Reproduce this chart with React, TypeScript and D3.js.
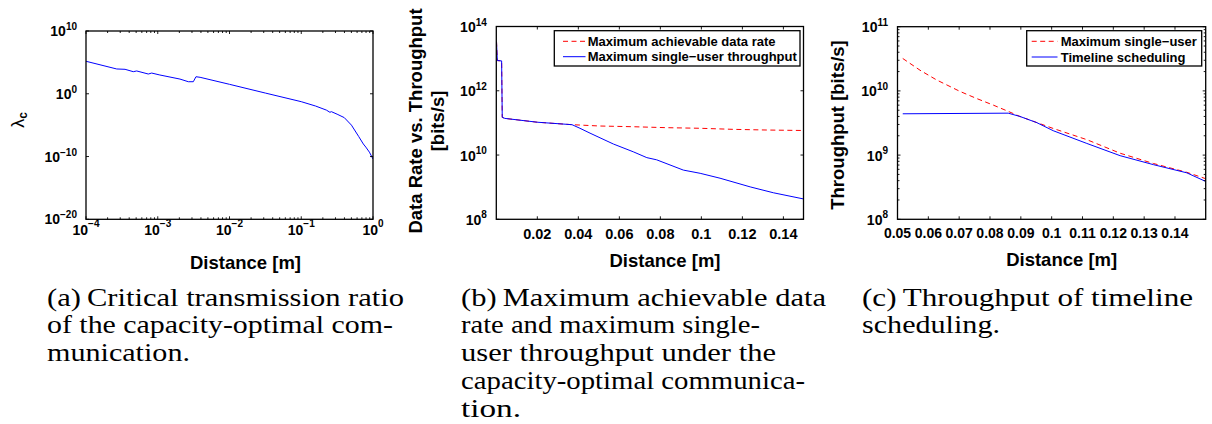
import React from 'react';
import * as d3 from 'd3';

// ---------------- Data ----------------
// (a) Critical transmission ratio
const aDistance = [1e-4, 2.68e-4, 3.5e-4, 4.56e-4, 5.09e-4, 7.38e-4, 8.24e-4, 1.07e-3, 2.04e-3, 2.67e-3, 3.13e-3, 3.41e-3, 3.89e-3, 1e-2, 3.16e-2, 0.1, 0.158, 0.224, 0.251, 0.263, 0.316, 0.398, 0.501, 0.631, 0.733, 0.794, 0.891, 1.0];
const aLambda = [1.5e5, 8.9e3, 7.9e3, 3.3e3, 4.3e3, 1.4e3, 2.0e3, 9.8e2, 2.2e2, 83, 83, 5.2e2, 4.2e2, 32, 1.3, 5.5e-2, 1.12e-2, 2.5e-3, 1.12e-3, 1.41e-3, 5.6e-4, 1.58e-4, 1e-5, 1.6e-7, 1e-8, 3.2e-9, 5e-10, 4e-11];
const aXTicks = [1e-4, 1e-3, 1e-2, 1e-1, 1];
const aYTicks = [1e-20, 1e-10, 1, 1e10];

// (b) Max achievable data rate vs. max single-user throughput
const bDistRate = [0.0001, 0.0005, 0.0026, 0.0029, 0.0042, 0.02, 0.0369, 0.0506, 0.0668, 0.0831, 0.0994, 0.1156, 0.1319, 0.1498];
const bRate = [3.4e13, 8.7e12, 8.5e12, 1.49e11, 1.38e11, 1.05e11, 8.8e10, 8.0e10, 7.6e10, 7.1e10, 6.8e10, 6.3e10, 6.0e10, 5.8e10];
const bDistThr = [0.0001, 0.0005, 0.0026, 0.0029, 0.0042, 0.02, 0.0369, 0.0408, 0.0457, 0.0571, 0.0668, 0.0734, 0.0782, 0.0912, 0.0994, 0.1091, 0.1238, 0.1351, 0.1498];
const bThr = [3.4e13, 8.7e12, 8.5e12, 1.49e11, 1.38e11, 1.05e11, 8.8e10, 6.8e10, 4.8e10, 2.2e10, 1.26e10, 8.3e9, 7.1e9, 3.4e9, 2.7e9, 1.9e9, 1.02e9, 6.7e8, 4.3e8];
const bXTicks = [0.02, 0.04, 0.06, 0.08, 0.1, 0.12, 0.14];
const bXLabels = ['0.02', '0.04', '0.06', '0.08', '0.1', '0.12', '0.14'];
const bYTicks = [1e8, 1e10, 1e12, 1e14];
const bLegend = ['Maximum achievable data rate', 'Maximum single\u2212user throughput'];

// (c) Timeline scheduling
const cDistMax = [0.0517, 0.0573, 0.0627, 0.0703, 0.0757, 0.0811, 0.0859, 0.0897, 0.1005, 0.1114, 0.1222, 0.133, 0.1438, 0.1499];
const cMax = [3.2e10, 2.1e10, 1.48e10, 9.8e9, 7.6e9, 6.0e9, 4.8e9, 4.0e9, 2.6e9, 1.74e9, 1.07e9, 7.4e8, 5.4e8, 4.3e8];
const cDistTl = [0.0517, 0.0859, 0.0897, 0.0952, 0.1005, 0.1114, 0.1222, 0.133, 0.1438, 0.1499];
const cTl = [4.4e9, 4.5e9, 4.0e9, 3.2e9, 2.4e9, 1.52e9, 9.8e8, 7.1e8, 5.3e8, 3.9e8];
const cXTicks = [0.05, 0.06, 0.07, 0.08, 0.09, 0.1, 0.11, 0.12, 0.13, 0.14];
const cXLabels = ['0.05', '0.06', '0.07', '0.08', '0.09', '0.1', '0.11', '0.12', '0.13', '0.14'];
const cYTicks = [1e8, 1e9, 1e10, 1e11];
const cLegend = ['Maximum single\u2212user', 'Timeline scheduling'];

// Captions
const capA = ['(a)\u2009Critical transmission ratio', 'of the capacity-optimal com-', 'munication.'];
const capB = ['(b)\u2009Maximum achievable data', 'rate and maximum single-', 'user throughput under the', 'capacity-optimal communica-', 'tion.'];
const capC = ['(c)\u2009Throughput of timeline', 'scheduling.'];

// ---------------- Styling / layout ----------------
const SANS = "'Liberation Sans', Arial, Helvetica, sans-serif";
const SERIF = "'Liberation Serif', 'Times New Roman', serif";
const BLUE = '#0000ff';
const RED = '#ff0000';
const DASH = '5,3.5';
const TICK = 3;
const MINOR = 2;

const supExp = (v: number) => String(Math.round(Math.log10(v))).replace('-', '\u2212');

type Box = { l: number; r: number; t: number; b: number };

function Frame({ box }: { box: Box }) {
  return <rect x={box.l} y={box.t} width={box.r - box.l} height={box.b - box.t} fill="none" stroke="#000" strokeWidth={1.3} />;
}

function XTickMarks({ xs, box, len }: { xs: number[]; box: Box; len: number }) {
  return (
    <g stroke="#000" strokeWidth={0.9}>
      {xs.map((x, i) => (
        <g key={i}>
          <line x1={x} x2={x} y1={box.b} y2={box.b - len} />
          <line x1={x} x2={x} y1={box.t} y2={box.t + len} />
        </g>
      ))}
    </g>
  );
}

function YTickMarks({ ys, box, len }: { ys: number[]; box: Box; len: number }) {
  return (
    <g stroke="#000" strokeWidth={0.9}>
      {ys.map((y, i) => (
        <g key={i}>
          <line x1={box.l} x2={box.l + len} y1={y} y2={y} />
          <line x1={box.r} x2={box.r - len} y1={y} y2={y} />
        </g>
      ))}
    </g>
  );
}

function PowLabel({ x, y, v, anchor, fs = 14, sfs = 10, rise = 7 }: any) {
  return (
    <text x={x} y={y} textAnchor={anchor} fontFamily={SANS} fontWeight="bold" fontSize={fs} fill="#000">
      10<tspan dy={-rise} fontSize={sfs}>{supExp(v)}</tspan>
    </text>
  );
}

function Legend({ box, labels, lineX1, lineX2, textX, rows }: any) {
  return (
    <g>
      <rect x={box.l} y={box.t} width={box.r - box.l} height={box.b - box.t} fill="#fff" stroke="#000" strokeWidth={1.3} />
      <line x1={lineX1} x2={lineX2} y1={rows[0]} y2={rows[0]} stroke={RED} strokeWidth={1} strokeDasharray={DASH} />
      <line x1={lineX1} x2={lineX2} y1={rows[1]} y2={rows[1]} stroke={BLUE} strokeWidth={1} />
      {labels.map((t: string, i: number) => (
        <text key={i} x={textX} y={rows[i] + 4.5} fontFamily={SANS} fontWeight="bold" fontSize={13} fill="#000">{t}</text>
      ))}
    </g>
  );
}

function Caption({ lines, x, y0, lh, widths }: any) {
  return (
    <g>
      {lines.map((t: string, i: number) => (
        <text key={i} x={x} y={y0 + i * lh} fontFamily={SERIF} fontSize={25} fill="#000"
          textLength={widths[i]} lengthAdjust="spacingAndGlyphs">{t}</text>
      ))}
    </g>
  );
}

function PanelA() {
  const box: Box = { l: 86, r: 373, t: 31, b: 219.3 };
  const x = d3.scaleLog().domain([1e-4, 1]).range([box.l, box.r]);
  const y = d3.scaleLog().domain([1e-20, 1e10]).range([box.b, box.t]);
  const line = d3.line<number>().x((_, i) => x(aDistance[i])).y((d) => y(d));
  const minors = x.ticks().filter((v) => !aXTicks.some((m) => Math.abs(v / m - 1) < 1e-6));
  return (
    <g>
      <defs><clipPath id="clipA"><rect x={box.l} y={box.t} width={box.r - box.l} height={box.b - box.t} /></clipPath></defs>
      <path d={line(aLambda) || ''} fill="none" stroke={BLUE} strokeWidth={1} clipPath="url(#clipA)" />
      <XTickMarks xs={aXTicks.map((v) => x(v))} box={box} len={TICK} />
      <XTickMarks xs={minors.map((v) => x(v))} box={box} len={MINOR} />
      <YTickMarks ys={aYTicks.map((v) => y(v))} box={box} len={TICK} />
      <Frame box={box} />
      {aXTicks.map((v, i) => (
        <PowLabel key={i} x={x(v)} y={box.b + 15.5} v={v} anchor="middle" rise={8} />
      ))}
      {aYTicks.map((v, i) => (
        <PowLabel key={i} x={box.l - 9} y={y(v) + 5} v={v} anchor="end" rise={6} />
      ))}
      <text x={245.5} y={269} textAnchor="middle" fontFamily={SANS} fontWeight="bold" fontSize={18.5}>Distance [m]</text>
      <text transform="translate(24,120) rotate(-90)" textAnchor="middle" fontFamily={SANS} fontSize={18}>
        λ<tspan dy={3} fontSize={12} fontWeight="bold">c</tspan>
      </text>
    </g>
  );
}

function PanelB() {
  const box: Box = { l: 496.3, r: 803.5, t: 26.5, b: 219.3 };
  const x = d3.scaleLinear().domain([0, 0.1498]).range([box.l, box.r]);
  const y = d3.scaleLog().domain([1e8, 1e14]).range([box.b, box.t]);
  const rateLine = d3.line<number>().x((_, i) => x(bDistRate[i])).y((d) => y(d));
  const thrLine = d3.line<number>().x((_, i) => x(bDistThr[i])).y((d) => y(d));
  return (
    <g>
      <defs><clipPath id="clipB"><rect x={box.l} y={box.t} width={box.r - box.l} height={box.b - box.t} /></clipPath></defs>
      <g clipPath="url(#clipB)">
        <path d={rateLine(bRate) || ''} fill="none" stroke={RED} strokeWidth={1} strokeDasharray={DASH} />
        <path d={thrLine(bThr) || ''} fill="none" stroke={BLUE} strokeWidth={1} />
      </g>
      <XTickMarks xs={bXTicks.map((v) => x(v))} box={box} len={TICK} />
      <YTickMarks ys={bYTicks.map((v) => y(v))} box={box} len={TICK} />
      <Frame box={box} />
      <Legend box={{ l: 554.3, r: 800, t: 30.7, b: 66 }} labels={bLegend} lineX1={563} lineX2={585.5} textX={587.7} rows={[41.3, 56.7]} />
      {bXTicks.map((v, i) => (
        <text key={i} x={x(v)} y={238.5} textAnchor="middle" fontFamily={SANS} fontWeight="bold" fontSize={14.5}>{bXLabels[i]}</text>
      ))}
      {bYTicks.map((v, i) => (
        <PowLabel key={i} x={box.l - 9.5} y={y(v) + 5.5} v={v} anchor="end" rise={6.5} />
      ))}
      <text x={665} y={266.5} textAnchor="middle" fontFamily={SANS} fontWeight="bold" fontSize={18.5}>Distance [m]</text>
      <text transform="translate(421.5,121) rotate(-90)" textAnchor="middle" fontFamily={SANS} fontWeight="bold" fontSize={18.5}>Data Rate vs. Throughput</text>
      <text transform="translate(444,121) rotate(-90)" textAnchor="middle" fontFamily={SANS} fontWeight="bold" fontSize={18.5}>[bits/s]</text>
    </g>
  );
}

function PanelC() {
  const box: Box = { l: 897.5, r: 1205.7, t: 26.7, b: 219.3 };
  const x = d3.scaleLinear().domain([0.05, 0.14996]).range([box.l, box.r]);
  const y = d3.scaleLog().domain([1e8, 1e11]).range([box.b, box.t]);
  const maxLine = d3.line<number>().x((_, i) => x(cDistMax[i])).y((d) => y(d));
  const tlLine = d3.line<number>().x((_, i) => x(cDistTl[i])).y((d) => y(d));
  const minors = y.ticks().filter((v) => !cYTicks.some((m) => Math.abs(v / m - 1) < 1e-6));
  return (
    <g>
      <defs><clipPath id="clipC"><rect x={box.l} y={box.t} width={box.r - box.l} height={box.b - box.t} /></clipPath></defs>
      <g clipPath="url(#clipC)">
        <path d={maxLine(cMax) || ''} fill="none" stroke={RED} strokeWidth={1} strokeDasharray={DASH} />
        <path d={tlLine(cTl) || ''} fill="none" stroke={BLUE} strokeWidth={1} />
      </g>
      <XTickMarks xs={cXTicks.map((v) => x(v))} box={box} len={TICK} />
      <YTickMarks ys={cYTicks.map((v) => y(v))} box={box} len={TICK} />
      <YTickMarks ys={minors.map((v) => y(v))} box={box} len={MINOR} />
      <Frame box={box} />
      <Legend box={{ l: 1026.7, r: 1201.7, t: 30.7, b: 66 }} labels={cLegend} lineX1={1031.7} lineX2={1057.5} textX={1060.7} rows={[41.3, 57]} />
      {cXTicks.map((v, i) => (
        <text key={i} x={x(v)} y={238} textAnchor="middle" fontFamily={SANS} fontWeight="bold" fontSize={14}>{cXLabels[i]}</text>
      ))}
      {cYTicks.map((v, i) => (
        <PowLabel key={i} x={box.l - 9.5} y={y(v) + 5.5} v={v} anchor="end" rise={6.5} />
      ))}
      <text x={1061.7} y={265.5} textAnchor="middle" fontFamily={SANS} fontWeight="bold" fontSize={18.5}>Distance [m]</text>
      <text transform="translate(843.5,125) rotate(-90)" textAnchor="middle" fontFamily={SANS} fontWeight="bold" fontSize={18.5}>Throughput [bits/s]</text>
    </g>
  );
}

export default function App() {
  return (
    <svg width={1212} height={424} viewBox="0 0 1212 424" style={{ position: 'absolute', left: 0, top: 0, background: '#fff' }}>
      <rect x={0} y={0} width={1212} height={424} fill="#fff" />
      <PanelA />
      <PanelB />
      <PanelC />
      <Caption lines={capA} x={47} y0={305.5} lh={27.9} widths={[357, 346, 143]} />
      <Caption lines={capB} x={461} y0={305.5} lh={27.9} widths={[365, 299, 315, 344, 60]} />
      <Caption lines={capC} x={862} y0={305.5} lh={27.9} widths={[331, 138]} />
    </svg>
  );
}
